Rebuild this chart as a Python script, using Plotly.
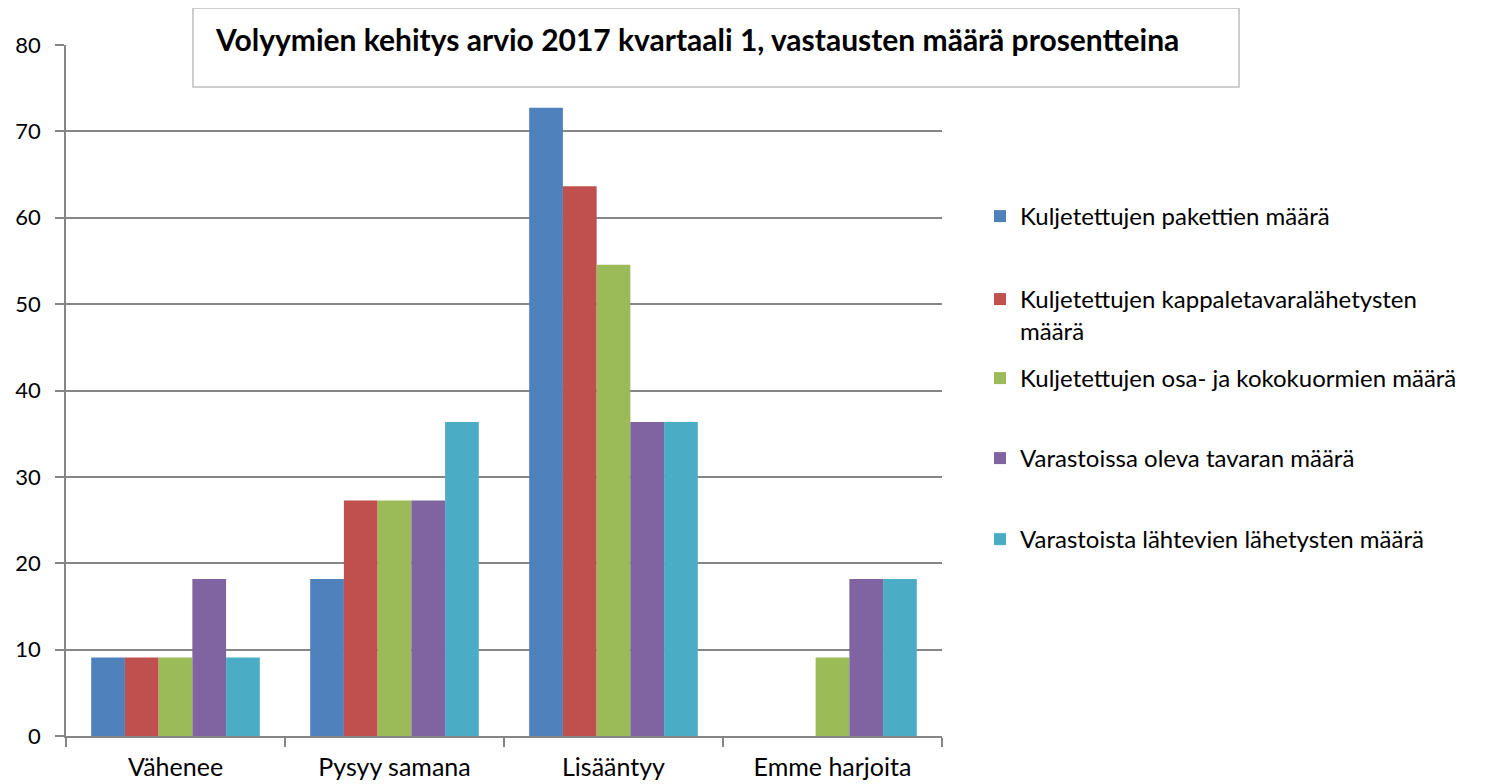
import plotly.graph_objects as go

categories = ["Vähenee", "Pysyy samana", "Lisääntyy", "Emme harjoita"]
series_names = [
    "Kuljetettujen pakettien määrä",
    "Kuljetettujen kappaletavaralähetysten<br>määrä",
    "Kuljetettujen osa- ja kokokuormien määrä",
    "Varastoissa oleva tavaran määrä",
    "Varastoista lähtevien lähetysten määrä",
]
pakettien = [9.09, 18.18, 72.73, 0]
kappaletavara = [9.09, 27.27, 63.64, 0]
kuormat = [9.09, 27.27, 54.55, 9.09]
varastoissa = [18.18, 27.27, 36.36, 18.18]
varastoista = [9.09, 36.36, 36.36, 18.18]
y_ticks = [0, 10, 20, 30, 40, 50, 60, 70, 80]
title_text = "Volyymien kehitys arvio 2017 kvartaali 1, vastausten määrä prosentteina"

colors = ["#4F81BD", "#C0504D", "#9BBB59", "#8064A2", "#4BACC6"]
all_values = [pakettien, kappaletavara, kuormat, varastoissa, varastoista]

FONT = "Lato"
OFF = 8  # page body margin
W, H = 1487 - OFF, 784 - OFF
# target page pixel coordinates, converted to figure coordinates
L, R, T, B = 66 - OFF, 942 - OFF, 45 - OFF, 736 - OFF
pw, ph = R - L, B - T


def px_x(x):
    return (x - OFF - L) / pw


def px_y(y):
    return (B - (y - OFF)) / ph


legend_centers = [217, 300, 379, 459, 540]

fig = go.Figure()
layout_legends = {}
for i, (name, vals) in enumerate(zip(series_names, all_values)):
    lname = "legend" if i == 0 else f"legend{i + 1}"
    fig.add_trace(go.Bar(
        x=categories, y=vals, name=name,
        marker=dict(color=colors[i], line=dict(width=0)),
        legend=lname,
    ))
    layout_legends[lname] = dict(
        x=px_x(980), xanchor="left",
        y=px_y(legend_centers[i] - 23), yanchor="top",
        font=dict(family=FONT, size=24, color="#000000"),
        bgcolor="rgba(0,0,0,0)",
        valign="top",
        itemwidth=30,
    )

fig.update_layout(
    width=W, height=H,
    margin=dict(l=L, r=W - R, t=T, b=H - B, autoexpand=False),
    paper_bgcolor="white", plot_bgcolor="white",
    barmode="group", bargap=0.23, bargroupgap=0,
    font=dict(family=FONT, size=22, color="#000000"),
    showlegend=True,
    xaxis=dict(
        showline=True, linecolor="#868686", linewidth=1.5,
        ticks="outside", ticklen=9, tickcolor="#868686", tickwidth=1.5,
        tickson="boundaries", ticklabelstandoff=8,
        tickfont=dict(family=FONT, size=25, color="#000000"),
        showgrid=False,
    ),
    yaxis=dict(
        range=[0, 80], tickvals=y_ticks,
        showline=True, linecolor="#868686", linewidth=1.5,
        ticks="outside", ticklen=9, tickcolor="#868686", tickwidth=1.5,
        ticklabelstandoff=10,
        showgrid=True, gridcolor="#868686", gridwidth=1.5,
        zeroline=False,
        tickfont=dict(family=FONT, size=22, color="#000000"),
    ),
    **layout_legends,
)

# title box
bx0, bx1, by0, by1 = 193, 1239, 8, 87
fig.add_shape(
    type="rect", xref="paper", yref="paper",
    x0=px_x(bx0), x1=px_x(bx1),
    y0=px_y(by1), y1=px_y(by0),
    fillcolor="white", line=dict(color="#BFBFBF", width=1.5), layer="above",
)
fig.add_annotation(
    xref="paper", yref="paper",
    x=px_x(213), xanchor="left",
    y=px_y(39), yanchor="middle",
    text="<b>" + title_text + "</b>", showarrow=False,
    font=dict(family=FONT, size=30, color="#000000"),
)

fig.write_html("out.html")
